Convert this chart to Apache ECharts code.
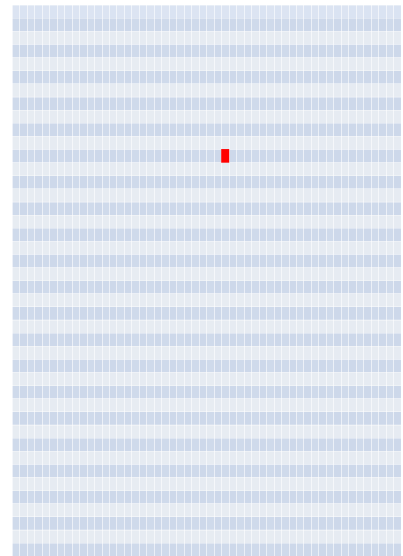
<!DOCTYPE html>
<html>
<head>
<meta charset="utf-8">
<script src="https://cdn.jsdelivr.net/npm/echarts@6/dist/echarts.min.js"></script>
<style>html,body{margin:0;padding:0;background:#fff}#main{width:403px;height:556px}</style>
</head>
<body>
<div id="main"></div>
<script>
var xCategories = ['1','2','3','4','5','6','7','8','9','10','11','12','13','14','15','16','17','18','19','20','21','22','23','24','25','26','27','28','29','30','31','32','33','34','35','36','37','38','39','40','41','42','43','44','45','46','47','48','49','50','51','52'];
var yCategories = ['1','2','3','4','5','6','7','8','9','10','11','12','13','14','15','16','17','18','19','20','21','22','23','24','25','26','27','28','29','30','31','32','33','34','35','36','37','38','39','40','41','42'];
var cellValues = [[28, 30, 1]];

// row stripe colours (style only), bottom row first
var stripeColors = [];
for (var i = 0; i < yCategories.length; i++) {
  stripeColors.push(i % 2 === 0 ? '#cdd8ea' : '#e6ebf2');
}
stripeColors[yCategories.length - 1] = '#dae3f2';

var chart = echarts.init(document.getElementById('main'));
chart.setOption({
  animation: false,
  grid: { left: 12, right: 2, top: 5, bottom: 0, containLabel: false },
  xAxis: {
    type: 'category', data: xCategories,
    axisLabel: { show: false, interval: 0 }, axisTick: { show: false }, axisLine: { show: false },
    splitArea: { show: true, interval: 0, areaStyle: { color: ['rgba(255,255,255,0.06)', 'rgba(255,255,255,0)'] } },
    splitLine: { show: true, interval: 0, lineStyle: { color: 'rgba(255,255,255,0.6)', width: 1 } },
    z: 3
  },
  yAxis: {
    type: 'category', data: yCategories,
    axisLabel: { show: false, interval: 0 }, axisTick: { show: false }, axisLine: { show: false },
    splitArea: { show: true, interval: 0, areaStyle: { color: stripeColors } },
    splitLine: { show: true, interval: 0, lineStyle: { color: 'rgba(255,255,255,0.35)', width: 1 } }
  },
  visualMap: { show: false, min: 0, max: 1, inRange: { color: ['#ff0000', '#ff0000'] } },
  series: [{ type: 'heatmap', data: cellValues, z: 5 }]
});
</script>
</body>
</html>
